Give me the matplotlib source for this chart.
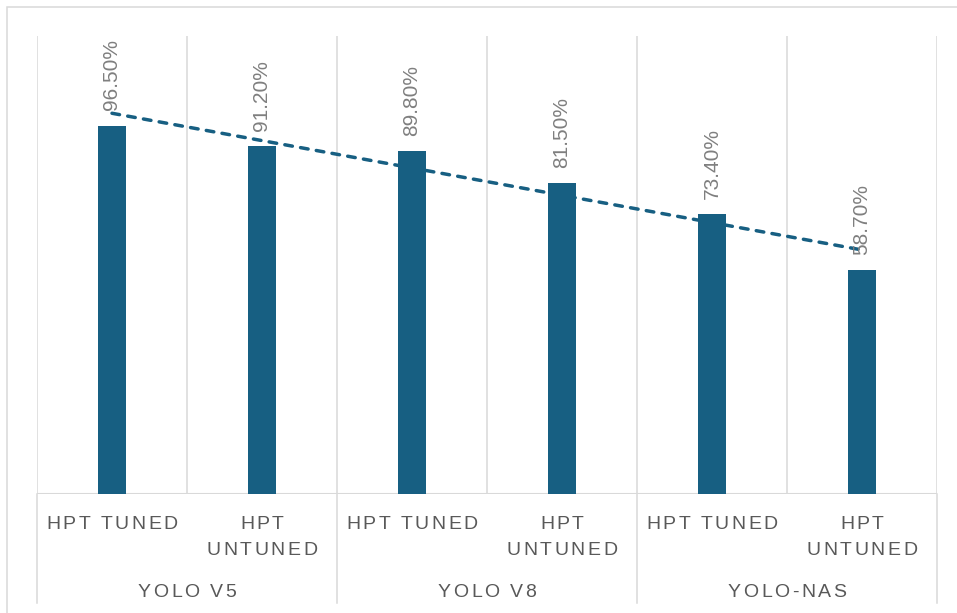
import numpy as np
import matplotlib
matplotlib.use("Agg")
import matplotlib.pyplot as plt
from matplotlib.font_manager import FontProperties
from matplotlib.lines import Line2D
from matplotlib.patches import Rectangle

# ---- data ----
groups = ["YOLO V5", "YOLO V8", "YOLO-NAS"]
conditions = ["HPT TUNED", "HPT\nUNTUNED"]
accuracy = [96.5, 91.2, 89.8, 81.5, 73.4, 58.7]

BAR = "#175F82"
GRID = "#d9d9d9"
TXT = "#595959"
LBL = "#7f7f7f"
FAMILY = ["Liberation Sans", "DejaVu Sans"]

W, H = 957, 613
DPI = 100
fig = plt.figure(figsize=(W / DPI, H / DPI), dpi=DPI)
fig.patch.set_facecolor("white")

# chart-area border (runs off the right and bottom edges)
fig.add_artist(Rectangle((7 / W, -0.05), 1.2, 1 - 7 / H + 0.05,
                         transform=fig.transFigure, fill=False,
                         edgecolor=GRID, linewidth=1.1))

ax = fig.add_axes([37 / W, 1 - 494 / H, 900 / W, (494 - 36) / H])
n = len(accuracy)
x = np.arange(n)
ax.set_xlim(-0.5, n - 0.5)
ax.set_ylim(0, 120)
for s in ax.spines.values():
    s.set_visible(False)
ax.set_xticks([])
ax.set_yticks([])

# category separators and baseline
ax.vlines(np.arange(n + 1) - 0.5, 0, 120, color=GRID, linewidth=1.1, zorder=1)
ax.axhline(0, color=GRID, linewidth=1.5, zorder=1)

ax.bar(x, accuracy, width=0.187, color=BAR, zorder=2)

# linear trendline
slope, icpt = np.polyfit(x, accuracy, 1)
ends = np.array([x[0], x[-1]])
ax.plot(ends, slope * ends + icpt, color=BAR, linewidth=2.5,
        linestyle=(0, (2.2, 2.4)), dash_capstyle="round", zorder=3)

# value labels
for xi, v in zip(x, accuracy):
    ax.annotate(f"{v:.2f}%", (xi, v), xytext=(0, 11), textcoords="offset points",
                rotation=90, ha="center", va="bottom", color=LBL,
                fontsize=15, family=FAMILY, zorder=4)

# ---- multi-level category axis with letter-spaced text ----
prop = FontProperties(family=FAMILY, size=14)
renderer = fig.canvas.get_renderer()


def ink_width(s):
    return renderer.get_text_width_height_descent(s, prop, ismath=False)[0]


def advance(c):
    return ink_width("H" + c + "H") - ink_width("HH")


def spaced(cx, baseline_from_top, s, track=2.5):
    widths = [advance(c) for c in s]
    total = sum(widths) + track * (len(s) - 1)
    xpos = cx - total / 2
    yb = (H - baseline_from_top) / H
    for c, w in zip(s, widths):
        if c != " ":
            fig.text(xpos / W, yb, c, ha="left", va="baseline",
                     fontproperties=prop, color=TXT)
        xpos += w + track


centers = [ax.transData.transform((xi, 0))[0] for xi in x]
for i, cx in enumerate(centers):
    lines = conditions[i % 2].split("\n")
    for j, line in enumerate(lines):
        spaced(cx, 529 + 26 * j, line)

for g, name in enumerate(groups):
    cx = (centers[2 * g] + centers[2 * g + 1]) / 2
    spaced(cx, 597, name)

# group separators extending below the axis
for k in range(0, n + 1, 2):
    px = ax.transData.transform((k - 0.5, 0))[0]
    fig.add_artist(Line2D([px / W, px / W], [1 - 494 / H, 1 - 603 / H],
                          transform=fig.transFigure, color=GRID, linewidth=1.1))

fig.savefig("out.png", dpi=DPI, facecolor="white")
